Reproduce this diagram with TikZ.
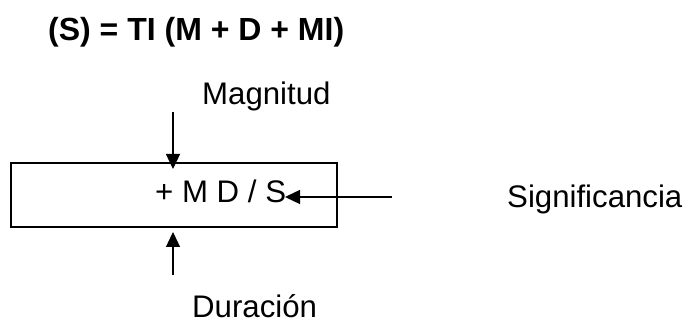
\documentclass[tikz,border=0pt]{standalone}
\usepackage{fontspec}
\setmainfont{Liberation Sans}
\usetikzlibrary{arrows.meta}
\tikzset{
  lbl/.style={inner sep=0pt, anchor=base west, font=\fontsize{31.2}{37}\selectfont},
  ttl/.style={inner sep=0pt, anchor=base west, font=\fontsize{32}{38}\selectfont\bfseries},
  boxst/.style={draw, line width=1.5pt, minimum width=326pt, minimum height=64pt, inner sep=0pt},
  arr/.style={line width=1.3pt, -{Triangle[length=15pt,width=14pt]}}
}
\begin{document}
\begin{tikzpicture}[x=1pt,y=1pt]
\useasboundingbox (0,0) rectangle (689,320);
\node[ttl] (title) at (48,279) {(S) = TI (M + D + MI)};
\node[boxst] (box) at (174,125) {};
\node[lbl] (mds) at (155,117) {+ M D / S};
\node[lbl] (mag) at (202,215) {Magnitud};
\node[lbl] (sig) at (507,112) {Significancia};
\node[lbl] (dur) at (192,2) {Duración};
\coordinate (mtail) at (173,208);
\coordinate (mtip) at (173,151);
\coordinate (dtail) at (173,45);
\coordinate (dtip) at (173,88);
\coordinate (stail) at (392,123);
\coordinate (stip) at (285,123);
\draw[arr] (mtail) -- (mtip);
\draw[arr] (dtail) -- (dtip);
\draw[arr] (stail) -- (stip);
\end{tikzpicture}
\end{document}
